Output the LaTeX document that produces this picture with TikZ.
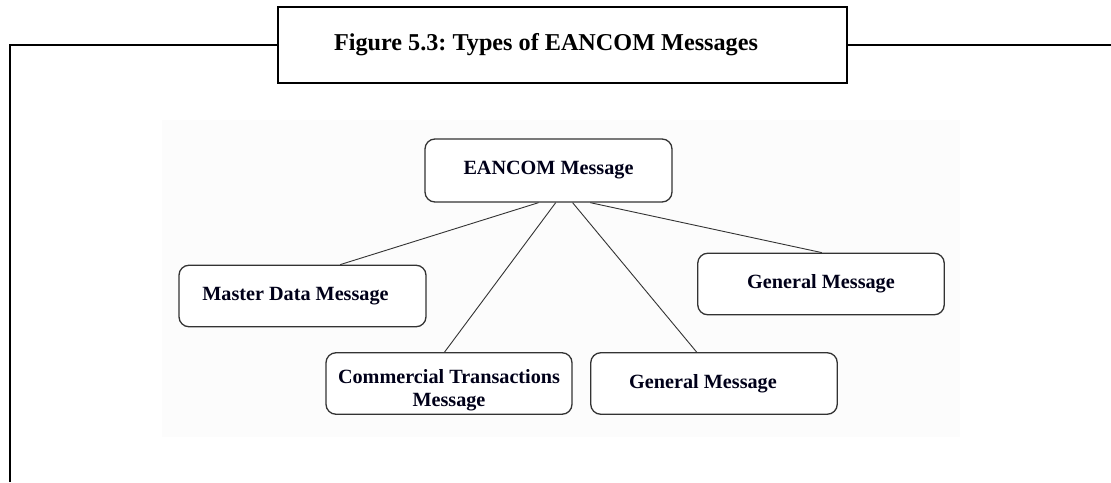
\documentclass[tikz,border=0pt]{standalone}
\usepackage{fontspec}
\setmainfont{Liberation Serif}
\usetikzlibrary{calc}
\definecolor{panel}{HTML}{FCFCFC}
\definecolor{edge}{HTML}{333333}
\tikzset{
  frame/.style={line width=2.6pt, black},
  msgbox/.style={draw=edge, line width=1.3pt, rounded corners=10pt, fill=white,
    minimum width=246pt, minimum height=61.5pt, align=center, inner sep=0pt,
    font=\fontsize{20.2}{23}\selectfont\bfseries, text=black!90!blue},
  conn/.style={draw=edge, line width=0.9pt},
}
\begin{document}
\frenchspacing
\begin{tikzpicture}[x=1pt,y=-1pt]
\useasboundingbox (0,0) rectangle (1111,482);
\fill[panel] (162,120) rectangle (960,437);
% title box
\node[draw, line width=2.6pt, minimum width=569pt, minimum height=76pt, inner sep=0pt,
  font=\fontsize{24.2}{28}\selectfont\bfseries] (title) at (562.5,45) {\hspace*{-33pt}Figure 5.3: Types of EANCOM Messages};
\draw[frame] (10,482) -- (10,45) -- (title.west);
\draw[frame] (title.east) -- (1111,45);
% message boxes
\node[msgbox, minimum width=247pt, minimum height=63pt] (root) at (548.5,170.5) {EANCOM Message};
\node[msgbox, minimum width=247pt] (master) at (302.5,296) {\hspace*{-14pt}Master Data Message};
\node[msgbox] (comm) at (449,383.5) {\raisebox{-6.5pt}[\height][\depth]{\begin{tabular}{@{}c@{}}Commercial Transactions\\Message\end{tabular}}};
\node[msgbox, minimum width=246.5pt] (genA) at (714,383.5) {\hspace*{-22pt}General Message};
\node[msgbox, minimum width=246.5pt] (genB) at (821,284) {General Message};
% connectors
\draw[conn] ($(root.south west)!0.46!(root.south east)$) -- ($(master.north west)!0.652!(master.north east)$);
\draw[conn] ($(root.south west)!0.529!(root.south east)$) -- ($(comm.north west)!0.482!(comm.north east)$);
\draw[conn] ($(root.south west)!0.597!(root.south east)$) -- ($(genA.north west)!0.43!(genA.north east)$);
\draw[conn] ($(root.south west)!0.668!(root.south east)$) -- ($(genB.north west)!0.503!(genB.north east)$);
\end{tikzpicture}
\end{document}
